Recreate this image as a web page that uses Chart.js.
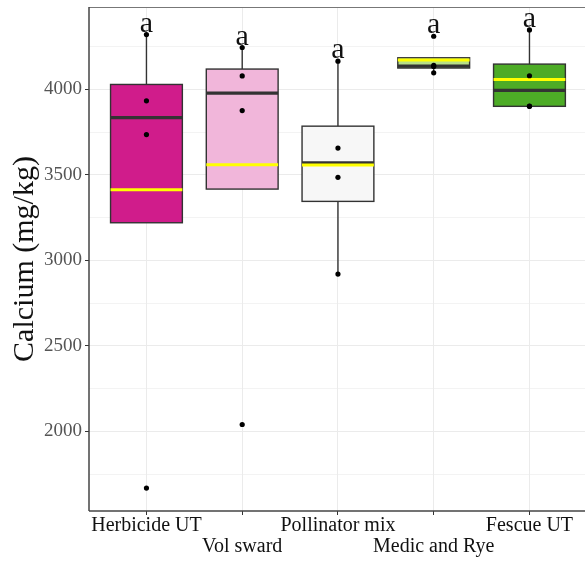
<!DOCTYPE html>
<html>
<head>
<meta charset="utf-8">
<script src="https://cdn.jsdelivr.net/npm/chart.js@4.4.1/dist/chart.umd.min.js"></script>
<style>
  body { margin: 0; background: #fff; }
  canvas { display: block; }
</style>
</head>
<body>
<canvas id="myChart" width="585" height="561"></canvas>
<script>
// calcium boxplot by treatment
const groups = ['Herbicide UT', 'Vol sward', 'Pollinator mix', 'Medic and Rye', 'Fescue UT']
const q1 = [3220, 3417, 3345, 4125, 3901]
const median = [3835, 3978, 3571, 4136, 3994]
const q3 = [4029, 4119, 3785, 4185, 4148]
const whiskerLow = [3220, 3417, 2920, 4097, 3901]
const whiskerHigh = [4321, 4245, 4165, 4185, 4348]
const means = [3413, 3560, 3558, 4172, 4058]
const samples = [
    [1668, 3736, 3933, 4321],
    [2040, 3876, 4079, 4245],
    [2920, 3486, 3657, 4165],
    [4097, 4134, 4140, 4311],
    [3901, 3902, 4080, 4348]
]
const letters = ['a', 'a', 'a', 'a', 'a']
const yTicks = [1750, 2000, 2250, 2500, 2750, 3000, 3250, 3500, 3750, 4000, 4250]

const fills = ['#d01c8b', '#f1b6da', '#f7f7f7', '#b8e186', '#4dac26']
const serif = "'Liberation Serif', 'DejaVu Serif', serif"
const boxWidth = 0.75

const points = []
samples.forEach((vals, i) => vals.forEach(v => points.push({x: i, y: v})))

const line = (ctx, x1, y1, x2, y2) => {
    ctx.beginPath()
    ctx.moveTo(x1, y1)
    ctx.lineTo(x2, y2)
    ctx.stroke()
}

const boxes = {
    id: 'boxes',
    beforeDatasetsDraw(chart) {
        const {ctx, scales: {x, y}} = chart
        ctx.save()
        groups.forEach((g, i) => {
            const cx = x.getPixelForValue(i)
            const left = x.getPixelForValue(i - boxWidth / 2)
            const right = x.getPixelForValue(i + boxWidth / 2)
            const top = y.getPixelForValue(q3[i])
            const bot = y.getPixelForValue(q1[i])
            ctx.strokeStyle = '#333'
            ctx.lineWidth = 1.4
            line(ctx, cx, top, cx, y.getPixelForValue(whiskerHigh[i]))
            line(ctx, cx, bot, cx, y.getPixelForValue(whiskerLow[i]))
            ctx.fillStyle = fills[i]
            ctx.fillRect(left, top, right - left, bot - top)
            ctx.strokeRect(left, top, right - left, bot - top)
            ctx.lineWidth = 3.2
            const ym = y.getPixelForValue(median[i])
            line(ctx, left, ym, right, ym)
            ctx.strokeStyle = '#ffff00'
            ctx.lineWidth = 3
            const ya = y.getPixelForValue(means[i])
            line(ctx, left, ya, right, ya)
        })
        ctx.restore()
    },
    afterDatasetsDraw(chart) {
        const {ctx, scales: {x, y}} = chart
        ctx.save()
        ctx.font = '30px ' + serif
        ctx.fillStyle = '#111'
        ctx.textAlign = 'center'
        ctx.textBaseline = 'alphabetic'
        letters.forEach((t, i) => {
            ctx.fillText(t, x.getPixelForValue(i), y.getPixelForValue(Math.max(...samples[i])) - 3)
        })
        ctx.restore()
    },
    afterDraw(chart) {
        const {ctx, chartArea: a} = chart
        ctx.save()
        ctx.strokeStyle = '#777'
        ctx.lineWidth = 1
        line(ctx, a.left, a.top + 0.5, a.right, a.top + 0.5)
        ctx.strokeStyle = '#444'
        ctx.lineWidth = 1.5
        line(ctx, a.left, a.top, a.left, a.bottom)
        line(ctx, a.left, a.bottom, a.right, a.bottom)
        ctx.restore()
    }
}

const ctx = document.getElementById('myChart').getContext('2d')

let myChart = new Chart(ctx, {
    type: 'scatter',
    data: {
        datasets: [
            {
                data: points,
                backgroundColor: '#000',
                borderWidth: 0,
                pointRadius: 2.6,
                pointHoverRadius: 2.6
            }
        ]
    },
    options: {
        responsive: false,
        animation: false,
        events: [],
        layout: {autoPadding: false, padding: {top: 7, left: 0, right: 0, bottom: 0}},
        plugins: {legend: {display: false}, tooltip: {enabled: false}},
        scales: {
            x: {
                type: 'linear',
                min: -0.6,
                max: 4.58,
                afterBuildTicks: s => { s.ticks = groups.map((g, i) => ({value: i})) },
                afterFit: s => {
                    s.height = 50
                    s.paddingLeft = 0
                    s.paddingRight = 0
                },
                border: {display: false},
                grid: {color: '#ebebeb', lineWidth: 1, tickLength: 4, tickColor: '#333'},
                ticks: {
                    padding: 0,
                    maxRotation: 0,
                    autoSkip: false,
                    color: '#111',
                    font: {family: serif, size: 20, lineHeight: 1.05},
                    callback: v => (v % 2 === 0 ? [groups[v]] : ['', groups[v]])
                }
            },
            y: {
                min: 1534,
                max: 4482,
                afterBuildTicks: s => { s.ticks = yTicks.map(v => ({value: v})) },
                afterFit: s => {
                    s.width = 89
                    s.paddingTop = 0
                    s.paddingBottom = 0
                },
                border: {display: false},
                grid: {
                    color: '#ebebeb',
                    lineWidth: c => (c.tick && c.tick.value % 500 === 0 ? 1 : 0.6),
                    tickLength: 4,
                    tickColor: c => (c.tick && c.tick.value % 500 === 0 ? '#333' : 'rgba(0,0,0,0)')
                },
                ticks: {
                    padding: 3,
                    color: '#555',
                    font: {family: serif, size: 19},
                    callback: v => (v % 500 === 0 ? String(v) : '')
                },
                title: {
                    display: true,
                    text: 'Calcium (mg/kg)',
                    color: '#111',
                    font: {family: serif, size: 30, lineHeight: 1},
                    padding: {top: 10, bottom: 0}
                }
            }
        }
    },
    plugins: [boxes]
})
</script>
</body>
</html>
